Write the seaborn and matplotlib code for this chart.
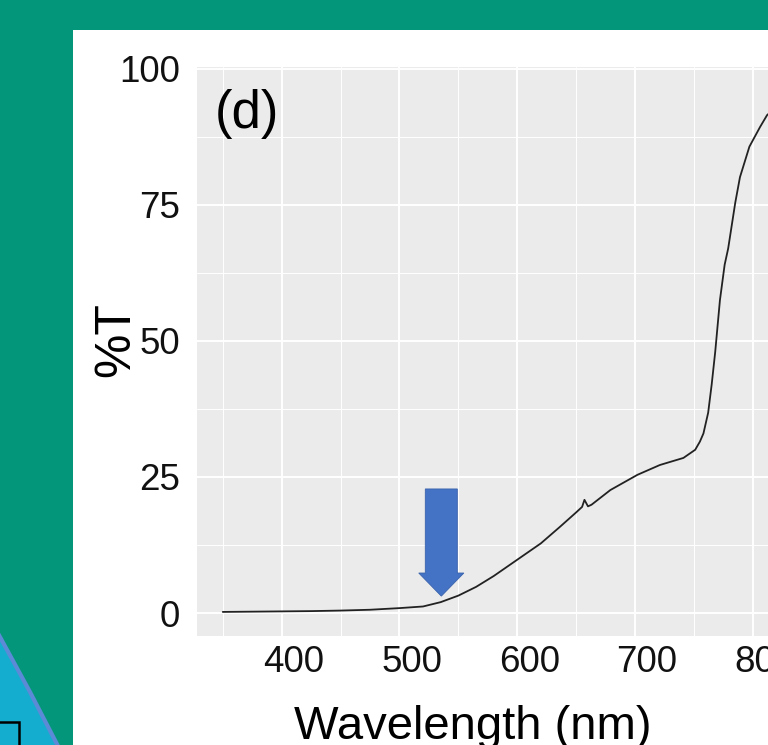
import numpy as np
import pandas as pd
import seaborn as sns
import matplotlib
matplotlib.use("Agg")
import matplotlib.pyplot as plt
import matplotlib.transforms as mtransforms
from matplotlib.patches import Rectangle, Polygon, FancyArrow
from matplotlib.ticker import MultipleLocator

# ---- data ----
wavelength = [350, 375, 400, 425, 450, 475, 500, 520, 535, 550, 565, 580, 600,
              620, 636, 650, 655, 657, 660, 663, 679, 702, 721, 741, 751, 755,
              758, 762, 765, 768, 772, 776, 779, 785, 789, 797, 806, 812, 820]
transmittance = [0.2, 0.25, 0.3, 0.35, 0.45, 0.6, 0.9, 1.2, 2.0, 3.2, 4.8, 6.8, 9.8,
                 12.8, 15.8, 18.5, 19.5, 20.8, 19.6, 19.9, 22.6, 25.4, 27.2, 28.5, 30.0, 31.5,
                 33.0, 36.8, 42.0, 48.0, 57.5, 64.0, 67.0, 75.4, 80.1, 85.7, 89.3, 91.5, 93.0]
x_ticks = [400, 500, 600, 700, 800]
y_ticks = [0, 25, 50, 75, 100]
panel_label = "(d)"
x_title = "Wavelength (nm)"
y_title = "%T"

W, H = 768, 745
GREEN = "#04967A"
CYAN = "#15ADCF"

sns.set_theme(style="darkgrid")
plt.rcParams["font.family"] = ["Liberation Sans", "DejaVu Sans"]

fig = plt.figure(figsize=(W / 100, H / 100), dpi=100, facecolor=GREEN)

def fx(px):
    return px / W

def fy(py):
    return 1 - py / H

# white slide panel
fig.patches.append(Rectangle((fx(73), 0), 1 - fx(73), fy(30), transform=fig.transFigure,
                             facecolor="white", edgecolor="none", zorder=-3))
# cyan decorative shape bottom-left
fig.patches.append(Polygon([(fx(-5), fy(628)), (fx(0), fy(637)), (fx(30), fy(692)),
                            (fx(59), fy(748)), (fx(-5), fy(748))], closed=True,
                           transform=fig.transFigure, facecolor=CYAN, edgecolor="#5B8AD6",
                           linewidth=3.0, zorder=-2))
fig.patches.append(Rectangle((fx(-3), fy(750)), fx(22), fy(722) - fy(750), transform=fig.transFigure,
                             facecolor="none", edgecolor="black", linewidth=1.8, zorder=-1))

left, right, top, bottom = 196.5, 768, 66.7, 635.7
ax = fig.add_axes([fx(left), fy(bottom), fx(right) - fx(left), fy(top) - fy(bottom)])
ax.set_zorder(5)
ax.set_facecolor("#EBEBEB")

df = pd.DataFrame({"wavelength": wavelength, "T": transmittance})
sns.lineplot(data=df, x="wavelength", y="T", color="#222222", linewidth=1.3, ax=ax, zorder=3)

ax.set_xlim(327.7, 812.8)
ax.set_ylim(-4.17, 100.4)
ax.set_xticks(x_ticks)
ax.set_yticks(y_ticks)
ax.xaxis.set_minor_locator(MultipleLocator(50))
ax.yaxis.set_minor_locator(MultipleLocator(12.5))
ax.grid(which="major", color="white", linewidth=1.4)
ax.grid(which="minor", color="white", linewidth=0.7)
for s in ax.spines.values():
    s.set_visible(False)
ax.tick_params(which="major", length=3, width=0.8, color="#555555", labelsize=26.5,
               labelcolor="#111111")
ax.tick_params(axis="x", pad=4)
ax.tick_params(axis="y", pad=9)
ax.tick_params(which="minor", length=0)
ax.set_xlabel("")
ax.set_ylabel("")

# x tick labels sit slightly right of their ticks in the reference
shift = mtransforms.ScaledTranslation(12 / 100, 0, fig.dpi_scale_trans)
for lab in ax.get_xticklabels():
    lab.set_transform(lab.get_transform() + shift)

ax.text(343, 91.7, panel_label, ha="left", va="center", fontsize=38, color="black")

# blue arrow annotation
ax.add_patch(FancyArrow(535.5, 22.8, 0, -19.7, width=27.2, head_width=38.3, head_length=4.25,
                        length_includes_head=True, facecolor="#4472C4", edgecolor="#3A63AD",
                        linewidth=0.6, zorder=4))

fig.text(fx(116), fy(340), y_title, rotation=90, ha="center", va="center", fontsize=36,
         color="black", zorder=6)
fig.text(fx(473), fy(739), x_title, ha="center", va="baseline", fontsize=34, color="black",
         zorder=6)

fig.savefig("out.png", dpi=100, facecolor=GREEN)
